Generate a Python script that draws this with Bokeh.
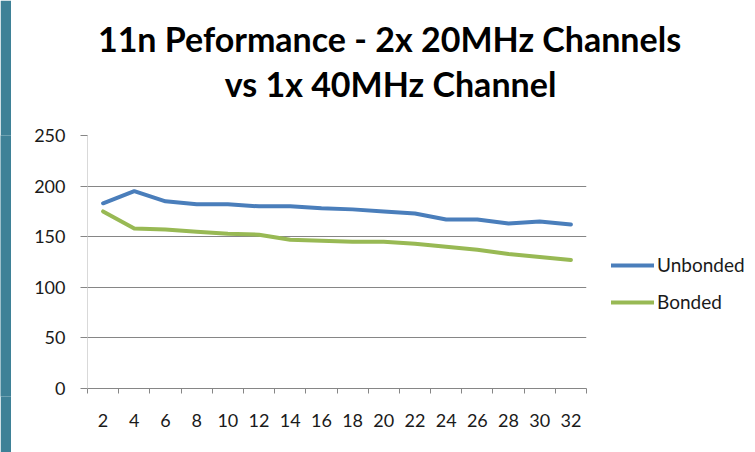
from bokeh.plotting import figure
from bokeh.layouts import row
from bokeh.models import Range1d, FixedTicker, Label, Legend, LegendItem
from bokeh.embed import file_html
from bokeh.resources import INLINE

# ---- data ----
channels = [2, 4, 6, 8, 10, 12, 14, 16, 18, 20, 22, 24, 26, 28, 30, 32]
unbonded = [183, 195, 185, 182, 182, 180, 180, 178, 177, 175, 173, 167, 167, 163, 165, 162]
bonded = [175, 158, 157, 155, 153, 152, 147, 146, 145, 145, 143, 140, 137, 133, 130, 127]
y_ticks = [0, 50, 100, 150, 200, 250]
title_lines = ["11n Peformance - 2x 20MHz Channels", "vs 1x 40MHz Channel"]
series_names = ["Unbonded", "Bonded"]

BLUE = "#4A7EBB"
GREEN = "#98B954"
GRID = "#868686"
TEAL = "#3E8197"
FONT = "Lato"

step = channels[1] - channels[0]
boundaries = [c - step / 2 for c in channels] + [channels[-1] + step / 2]

# slide edge strip on the left
strip = figure(width=11, height=452, output_backend="svg", toolbar_location=None,
               title=None, x_axis_type=None, y_axis_type=None, min_border=0)
strip.background_fill_color = TEAL
strip.border_fill_color = TEAL
strip.outline_line_color = None
strip.grid.visible = False

fig = figure(frame_width=499, frame_height=253, output_backend="svg", toolbar_location=None,
             title=None,
             x_range=Range1d(boundaries[0], boundaries[-1]),
             y_range=Range1d(y_ticks[0], y_ticks[-1]),
             min_border_left=76, min_border_right=161,
             min_border_top=135, min_border_bottom=56)
fig.background_fill_color = "white"
fig.border_fill_color = "white"
fig.outline_line_color = None

# x axis: labels at centres, tick marks at category boundaries
fig.xaxis.ticker = FixedTicker(ticks=channels, minor_ticks=boundaries)
fig.xaxis.major_tick_out = 0
fig.xaxis.major_tick_in = 0
fig.xaxis.minor_tick_out = 5
fig.xaxis.minor_tick_in = 0
fig.xaxis.minor_tick_line_color = GRID
fig.xaxis.axis_line_color = GRID
fig.xaxis.major_label_text_font = FONT
fig.xaxis.major_label_text_font_size = "18px"
fig.xaxis.major_label_text_color = "#1a1a1a"
fig.xaxis.major_label_standoff = 20

fig.yaxis.ticker = FixedTicker(ticks=y_ticks)
fig.yaxis.major_tick_out = 7
fig.yaxis.major_tick_in = 0
fig.yaxis.major_tick_line_color = GRID
fig.yaxis.minor_tick_out = 0
fig.yaxis.minor_tick_in = 0
fig.yaxis.axis_line_color = "#D9D9D9"
fig.yaxis.major_label_text_font = FONT
fig.yaxis.major_label_text_font_size = "18px"
fig.yaxis.major_label_text_color = "#1a1a1a"
fig.yaxis.major_label_standoff = 15

fig.xgrid.visible = False
fig.ygrid.ticker = FixedTicker(ticks=y_ticks)
fig.ygrid.grid_line_color = GRID
fig.ygrid.grid_line_width = 1

r1 = fig.line(channels, unbonded, line_color=BLUE, line_width=4, line_join="round", line_cap="round")
r2 = fig.line(channels, bonded, line_color=GREEN, line_width=4, line_join="round", line_cap="round")

legend = Legend(items=[LegendItem(label=series_names[0], renderers=[r1]),
                       LegendItem(label=series_names[1], renderers=[r2])],
                location=(25, 75), padding=0, margin=0, spacing=14,
                glyph_width=43, glyph_height=20, label_height=20, label_standoff=3,
                label_text_font=FONT, label_text_font_size="19px", label_text_color="#1a1a1a",
                border_line_color=None, background_fill_alpha=0)
fig.add_layout(legend, "right")

# title: second line sits in the panel next to the frame, first line in the one above it
for text, x, y in zip([title_lines[1], title_lines[0]], [303, 302], [52, 56]):
    fig.add_layout(Label(x=x, y=y, x_units="screen", y_units="screen", text=text,
                         text_align="center", text_baseline="alphabetic",
                         text_font=FONT, text_font_style="bold", text_font_size="34px",
                         text_color="#000000"), "above")

p = row(strip, fig)

open("out.html", "w").write(file_html(p, INLINE))
